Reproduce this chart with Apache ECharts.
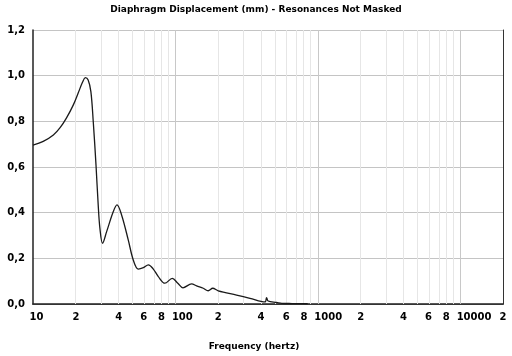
<!DOCTYPE html>
<html>
<head>
<meta charset="utf-8">
<script src="https://cdn.jsdelivr.net/npm/echarts@6/dist/echarts.min.js"></script>
<style>
html,body{margin:0;padding:0;background:#fff;}
#chart{width:512px;height:356px;}
</style>
</head>
<body>
<div id="chart"></div>
<script>
// Frequency (Hz) and diaphragm displacement (mm)
const freqs = [10, 11.8, 13.9, 15.5, 17.2, 19.2, 20.8, 22.3, 23.3, 24.4, 25.5, 26.5, 27.7, 28.7, 29.5, 30.8, 32.9, 36.6, 38.9, 41.9, 46.7, 50.6, 54.9, 59.6, 64.6, 70.0, 75.9, 84.4, 95.1, 104, 113, 130, 141, 157, 170, 183, 200, 269, 334, 426, 437, 448, 514, 560, 660, 850];
const displacement = [0.696, 0.712, 0.740, 0.772, 0.815, 0.872, 0.925, 0.972, 0.991, 0.981, 0.930, 0.798, 0.609, 0.434, 0.332, 0.266, 0.317, 0.404, 0.434, 0.390, 0.280, 0.193, 0.153, 0.159, 0.171, 0.153, 0.120, 0.091, 0.112, 0.091, 0.071, 0.088, 0.079, 0.069, 0.058, 0.069, 0.058, 0.039, 0.025, 0.009, 0.028, 0.013, 0.007, 0.003, 0.002, 0.001];

// x tick labels
const tickFreqs = [10, 20, 40, 60, 80, 100, 200, 400, 600, 800, 1000, 2000, 4000, 6000, 8000, 10000, 20000];
const tickLabels = ['10', '2', '4', '6', '8', '100', '2', '4', '6', '8', '1000', '2', '4', '6', '8', '10000', '2'];

// vertical grid lines
const gridFreqs = [20,30,40,50,60,70,80,90,100,200,300,400,500,600,700,800,900,1000,2000,3000,4000,5000,6000,7000,8000,9000,10000];
const decadeFreqs = [100, 1000, 10000];

const FONT = 'DejaVu Sans';
const xMin = 1, xMax = Math.log10(20000);
const lineData = freqs.map((f, i) => [Math.log10(f), displacement[i]]);

function xLabel(v) {
  let best = 0, bd = Infinity;
  tickFreqs.forEach((f, i) => { const d = Math.abs(Math.log10(f) - v); if (d < bd) { bd = d; best = i; } });
  const t = tickLabels[best];
  if (t.length > 1) return '{p|' + t.slice(1) + '}{b|' + t + '}';
  return '{b|' + t + '}';
}

const labelStyle = {fontFamily: FONT, fontWeight: 'bold', fontSize: 10, color: '#000'};

const chart = echarts.init(document.getElementById('chart'), null, {renderer: 'canvas'});
chart.setOption({
  animation: false,
  backgroundColor: '#fff',
  title: {
    text: 'Diaphragm Displacement (mm) - Resonances Not Masked',
    left: 'center',
    top: 0,
    textStyle: {fontFamily: FONT, fontWeight: 'bold', fontSize: 9, color: '#000'}
  },
  grid: {left: 33, right: 9, top: 30, bottom: 52},
  xAxis: [{
    type: 'value', min: xMin, max: xMax,
    name: 'Frequency (hertz)', nameLocation: 'middle', nameGap: 38,
    nameTextStyle: {fontFamily: FONT, fontWeight: 'bold', fontSize: 9, color: '#000', padding: [0, 28, 0, 0]},
    axisLine: {show: true, onZero: false, lineStyle: {color: '#222', width: 1.5}},
    axisTick: {show: false},
    splitLine: {show: false},
    axisLabel: {
      customValues: tickFreqs.map(f => Math.log10(f)),
      formatter: xLabel,
      margin: 8,
      rich: {
        b: labelStyle,
        p: Object.assign({}, labelStyle, {color: 'rgba(0,0,0,0)'})
      }
    }
  }, {
    type: 'value', min: xMin, max: xMax, position: 'top',
    axisLine: {show: true, lineStyle: {color: '#333', width: 1}},
    axisTick: {show: false}, axisLabel: {show: false}, splitLine: {show: false}
  }],
  yAxis: [{
    type: 'value', min: 0, max: 1.2, interval: 0.2,
    axisLine: {show: true, lineStyle: {color: '#222', width: 1.5}},
    axisTick: {show: false},
    splitLine: {show: true, lineStyle: {color: '#c4c4c4', width: 1}},
    axisLabel: Object.assign({
      margin: 8,
      formatter: v => v.toFixed(1).replace('.', ',')
    }, labelStyle)
  }, {
    type: 'value', min: 0, max: 1.2, position: 'right',
    axisLine: {show: true, lineStyle: {color: '#333', width: 1}},
    axisTick: {show: false}, axisLabel: {show: false}, splitLine: {show: false}
  }],
  series: [{
    type: 'line',
    data: [],
    z: 1,
    silent: true,
    markLine: {
      silent: true,
      symbol: 'none',
      label: {show: false},
      animation: false,
      data: gridFreqs.map(f => ({
        xAxis: Math.log10(f),
        lineStyle: {type: 'solid', width: 1, color: decadeFreqs.indexOf(f) >= 0 ? '#c8c8c8' : '#e6e6e6'}
      }))
    }
  }, {
    type: 'line',
    z: 5,
    data: lineData,
    showSymbol: false,
    smooth: 0.35,
    lineStyle: {color: '#1a1a1a', width: 1.3}
  }]
});
</script>
</body>
</html>
